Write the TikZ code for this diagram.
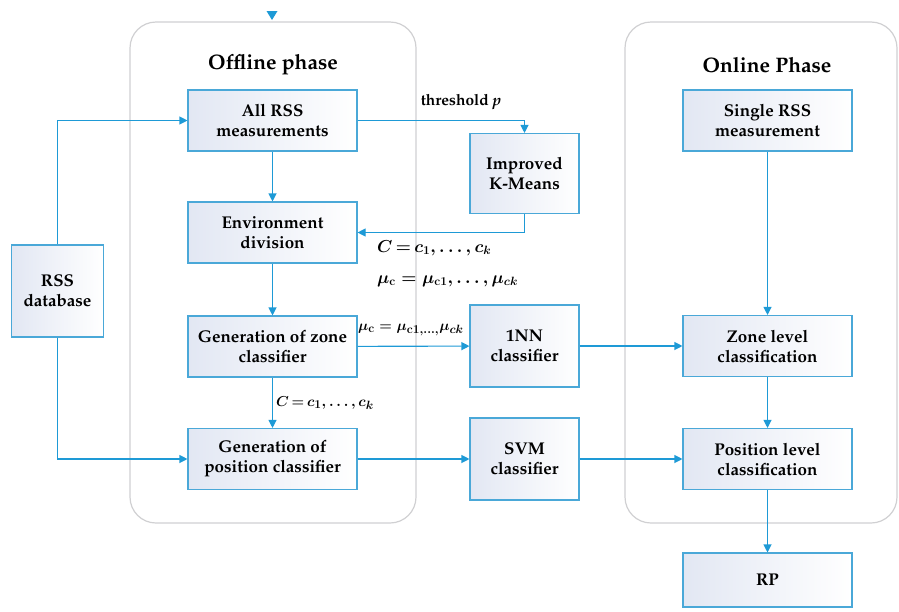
\documentclass[tikz,border=0pt]{standalone}
\usepackage[T1]{fontenc}
\renewcommand{\rmdefault}{ppl}
\DeclareMathSizes{16}{16}{12.5}{10}
\DeclareMathSizes{15}{15}{12}{9.5}
\usetikzlibrary{arrows.meta}
\definecolor{lineblue}{RGB}{30,154,214}
\definecolor{boxline}{RGB}{74,168,216}
\definecolor{boxfill}{RGB}{226,231,243}
\definecolor{phaseline}{RGB}{208,208,210}
\tikzset{
  box/.style={draw=boxline, line width=1.1pt, left color=boxfill, right color=white,
    minimum width=169pt, minimum height=61pt, align=center, inner sep=0pt,
    font=\bfseries\fontsize{17}{20}\selectfont},
  sbox/.style={box, minimum width=109pt, minimum height=80pt},
  arr/.style={draw=lineblue, line width=1.1pt, -{Triangle[length=8pt,width=8pt]}},
  phase/.style={draw=phaseline, line width=1.2pt, rounded corners=26pt},
  ptitle/.style={font=\bfseries\fontsize{21}{24}\selectfont},
  lab/.style={font=\boldmath\bfseries\fontsize{16}{19}\selectfont, inner sep=0pt, anchor=west},
  slab/.style={lab, font=\boldmath\bfseries\fontsize{15}{18}\selectfont}
}
\begin{document}
\begin{tikzpicture}[x=1pt,y=-1pt]
\useasboundingbox (0,0) rectangle (899,611);
% phases
\draw[phase] (130,22) rectangle (416,523);
\draw[phase] (625,22) rectangle (897,523);
\node[ptitle] (toff) at (273,65) {Offline phase};
\node[ptitle] (ton) at (767,65) {Online Phase};
% stray arrow tip
\fill[lineblue] (266.5,11) -- (277.5,11) -- (272,20) -- cycle;
% offline boxes
\node[box] (all) at (272.5,120.5) {All RSS\\measurements};
\node[box] (env) at (272.5,232.5) {Environment\\division};
\node[box] (zone) at (272.5,346.5) {Generation of zone\\classifier};
\node[box] (pos) at (272.5,459) {Generation of\\position classifier};
\node[sbox] (km) at (524.5,173.5) {Improved\\K-Means};
\node[sbox, minimum height=82pt] (nn) at (524.5,346) {1NN\\classifier};
\node[sbox, minimum height=82pt] (svm) at (524.5,459) {SVM\\classifier};
\node[box, minimum width=92pt, minimum height=92pt] (db) at (57.5,291) {RSS\\database};
% online boxes
\node[box] (single) at (767.5,120.5) {Single RSS\\measurement};
\node[box] (zl) at (767.5,346) {Zone level\\classification};
\node[box] (pl) at (767.5,459) {Position level\\classification};
\node[box, minimum height=54pt] (rp) at (767.5,580) {RP};
% connectors
\draw[arr] (all.east) -| (km.north);
\draw[arr] (km.south) |- (env.east);
\draw[arr] (all) -- (env);
\draw[arr] (env) -- (zone);
\draw[arr] (zone) -- (nn);
\draw[arr] (zone) -- (pos);
\draw[arr] (pos) -- (svm);
\draw[arr] (nn) -- (zl);
\draw[arr] (svm) -- (pl);
\draw[arr] (single) -- (zl);
\draw[arr] (zl) -- (pl);
\draw[arr] (pl) -- (rp);
\draw[arr] (db.north) |- (all.west);
\draw[arr] (db.south) |- (pos.west);
% labels
\node[font=\bfseries\fontsize{15.5}{18}\selectfont] (thr) at (461,102) {threshold \textit{p}};
\node[lab] (l1) at (377,248) {$C{\,=\,}c_1,\ldots,c_k$};
\node[lab] (l2) at (377,281) {$\mu_{\mathbf{c}}=\mu_{\mathbf{c}1},\ldots,\mu_{ck}$};
\node[slab] (l3) at (358,330) {$\mu_{\mathbf{c}}=\mu_{\mathbf{c}1,\ldots,}\mu_{ck}$};
\node[slab] (l4) at (276,403) {$C{\,=\,}c_1,\ldots,c_k$};
\end{tikzpicture}
\end{document}
